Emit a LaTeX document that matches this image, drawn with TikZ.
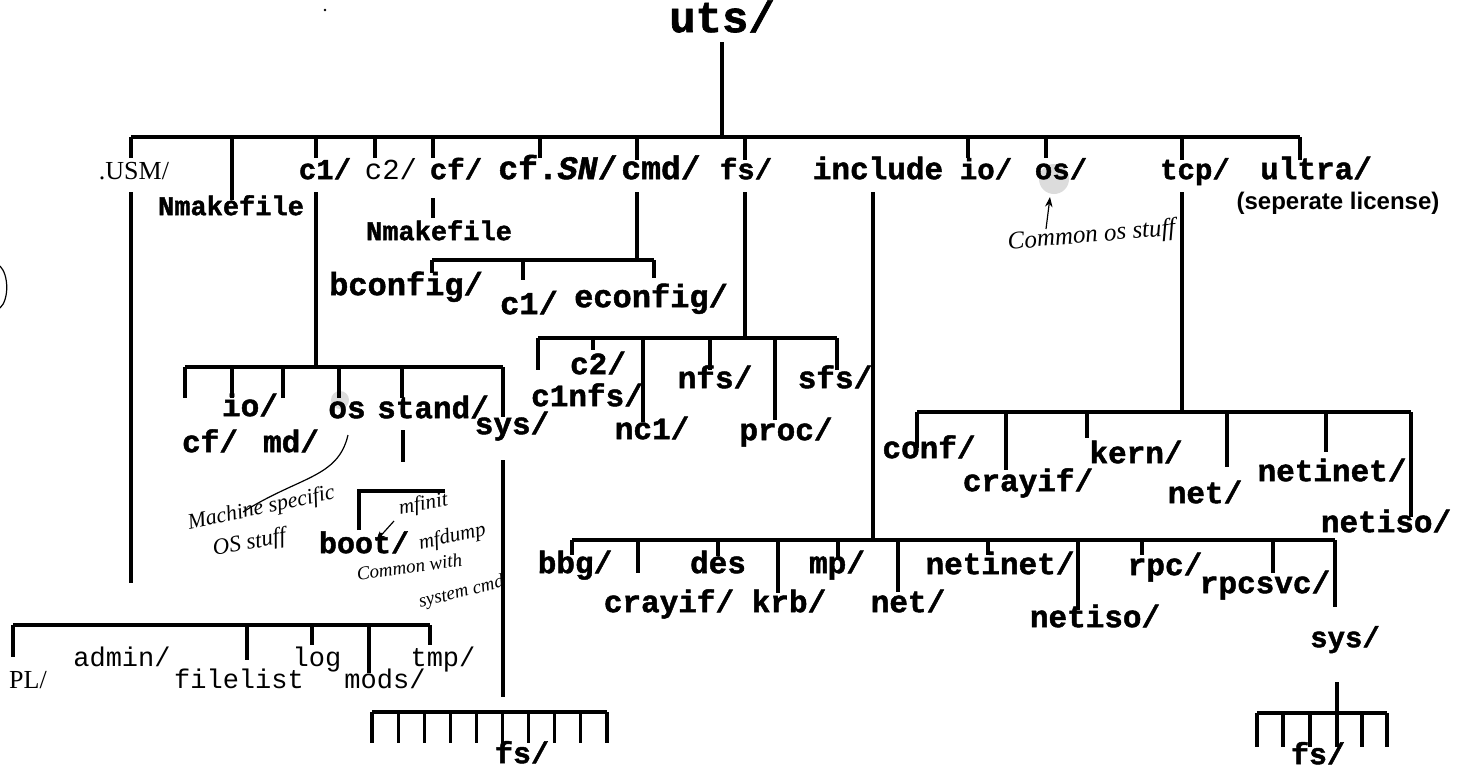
\documentclass[tikz,border=0pt]{standalone}
\usepackage{fontspec}
\usetikzlibrary{arrows.meta}
\setmonofont{Liberation Mono}[BoldFeatures={FakeBold=1.5},BoldItalicFeatures={FakeBold=1.5}]
\newfontfamily\timesf{Liberation Serif}
\newfontfamily\arialf{Liberation Sans}
\newcommand\fsz[1]{\fontsize{#1}{#1}\selectfont}
\begin{document}
\begin{tikzpicture}[x=1pt,y=-1pt,line width=3.2pt,
  lbl/.style={font=\ttfamily\bfseries\fsz{31},anchor=mid,inner sep=0pt},
  toplbl/.style={lbl,font=\ttfamily\bfseries\fsz{29}},
  thin/.style={font=\ttfamily\fsz{27},anchor=mid,inner sep=0pt},
  tms/.style={font=\timesf\fsz{26},anchor=mid,inner sep=0pt},
  hand/.style={font=\timesf\itshape\fsz{22},anchor=mid,inner sep=0pt},
  pen/.style={line width=1.2pt},
  speck/.style={fill=gray!50,opacity=0.55}]
\useasboundingbox (0,0) rectangle (1467,772);
% speckles
\fill[speck] (1054,179) circle (15);
\fill[speck] (340,400) circle (9);
\fill (325,10) circle (1.4);
% labels
\node[lbl,font=\ttfamily\bfseries\fsz{44}] (uts) at (722,30) {uts/};
\node[tms] (usm) at (134,177) {.USM/};
\node[toplbl,font=\ttfamily\bfseries\fsz{27}] (nmk1) at (231,213) {Nmakefile};
\node[toplbl] (c1) at (325,177) {c1/};
\node[thin,font=\ttfamily\fsz{29}] (c2) at (391,177) {c2/};
\node[toplbl] (cf) at (456,177) {cf/};
\node[toplbl,font=\ttfamily\bfseries\fsz{33}] (cfsn) at (558,177) {cf.\textit{SN}/};
\node[toplbl,font=\ttfamily\bfseries\fsz{33}] (cmd) at (661,177) {cmd/};
\node[toplbl] (fs) at (746,177) {fs/};
\node[toplbl,font=\ttfamily\bfseries\fsz{31}] (incl) at (878,177) {include};
\node[toplbl] (io) at (986,177) {io/};
\node[toplbl] (os) at (1061,177) {os/};
\node[toplbl] (tcp) at (1195,177) {tcp/};
\node[toplbl,font=\ttfamily\bfseries\fsz{31}] (ultra) at (1316,177) {ultra/};
\node[font=\arialf\bfseries\fsz{24},anchor=mid,inner sep=0pt] (lic) at (1338,207) {(seperate license)};
\node[toplbl,font=\ttfamily\bfseries\fsz{27}] (nmk2) at (439,238) {Nmakefile};
% cmd children
\node[lbl,font=\ttfamily\bfseries\fsz{32}] (bconf) at (406,293) {bconfig/};
\node[lbl,font=\ttfamily\bfseries\fsz{32}] (c1b) at (529,312) {c1/};
\node[lbl,font=\ttfamily\bfseries\fsz{32}] (econf) at (651,305) {econfig/};
% fs children
\node[lbl] (c2b) at (598,372) {c2/};
\node[lbl] (c1nfs) at (587,404) {c1nfs/};
\node[lbl] (nfs) at (715,386) {nfs/};
\node[lbl] (nc1) at (652,437) {nc1/};
\node[lbl] (proc) at (786,438) {proc/};
\node[lbl] (sfs) at (835,386) {sfs/};
% c1 children
\node[lbl] (cfc) at (210,450) {cf/};
\node[lbl] (ioc) at (250,414) {io/};
\node[lbl] (mdc) at (291,450) {md/};
\node[lbl] (osc) at (347,416) {os};
\node[lbl] (stand) at (433,416) {stand/};
\node[lbl] (sys1) at (512,432) {sys/};
\node[lbl,font=\ttfamily\bfseries\fsz{30}] (boot) at (364,551) {boot/};
% .USM children
\node[tms] (pl) at (28,686) {PL/};
\node[thin] (admin) at (122,664) {admin/};
\node[thin] (filelist) at (239,686) {filelist};
\node[thin] (log) at (317,664) {log};
\node[thin] (mods) at (385,686) {mods/};
\node[thin] (tmp) at (443,664) {tmp/};
% include children
\node[lbl] (bbg) at (575,571) {bbg/};
\node[lbl] (cray1) at (669,610) {crayif/};
\node[lbl] (des) at (718,571) {des};
\node[lbl] (krb) at (789,610) {krb/};
\node[lbl] (mp) at (837,571) {mp/};
\node[lbl] (net1) at (908,610) {net/};
\node[lbl] (netinet1) at (1000,572) {netinet/};
\node[lbl] (netiso1) at (1095,625) {netiso/};
\node[lbl] (rpc) at (1165,573) {rpc/};
\node[lbl] (rpcsvc) at (1265,591) {rpcsvc/};
\node[lbl,font=\ttfamily\bfseries\fsz{29}] (sys2) at (1345,645) {sys/};
% tcp children
\node[lbl] (conf) at (929,456) {conf/};
\node[lbl] (cray2) at (1028,489) {crayif/};
\node[lbl] (kern) at (1136,461) {kern/};
\node[lbl] (net2) at (1205,501) {net/};
\node[lbl] (netinet2) at (1332,479) {netinet/};
\node[lbl] (netiso2) at (1386,530) {netiso/};
% bottom fs
\node[lbl,font=\ttfamily\bfseries\fsz{30}] (fsl) at (522,761) {fs/};
\node[lbl,font=\ttfamily\bfseries\fsz{30}] (fsr) at (1318,762) {fs/};

% ---- tree lines ----
\draw (722,42) -- (722,137);
\draw (131,137) -- (1300,137);
\foreach \x/\y in {131/158,232/200,316/158,375/158,433/158,540/158,637/160,745/160,968/158,1046/158,1182/160,1300/160}
  \draw (\x,137) -- (\x,\y);
\draw (131,192) -- (131,583);
\draw (316,192) -- (316,367);
\draw (433,198) -- (433,218);
\draw (637,192) -- (637,260);
\draw (745,192) -- (745,338);
\draw (873,192) -- (873,540);
\draw (1182,192) -- (1182,412);
% cmd
\draw (432,260) -- (654,260);
\foreach \x/\y in {432/273,523/280,654/278} \draw (\x,260) -- (\x,\y);
% fs
\draw (538,338) -- (837,338);
\foreach \x/\y in {538/370,593/350,643/422,710/370,775/420,837/370} \draw (\x,338) -- (\x,\y);
% c1
\draw (185,367) -- (503,367);
\foreach \x/\y in {185/398,232/398,283/398,339/398,402/398,503/417} \draw (\x,367) -- (\x,\y);
\draw (403,430) -- (403,462);
\draw (359,530) -- (359,491) -- (445,491);
\draw (503,460) -- (503,697);
\draw (372,712) -- (607,712);
\foreach \k in {0,...,9} \draw ({372+\k*26.1},712) -- ({372+\k*26.1},743);
% .USM
\draw (13,625) -- (430,625);
\foreach \x/\y in {13/657,247/660,312/645,369/673,430/645} \draw (\x,625) -- (\x,\y);
% include
\draw (572,540) -- (1335,540);
\foreach \x/\y in {572/555,638/573,718/556,778/593,838/560,898/592,988/555,1078/610,1142/555,1273/573,1335/607} \draw (\x,540) -- (\x,\y);
\draw (1337,682) -- (1337,713);
\draw (1257,713) -- (1387,713);
\foreach \x in {1257,1283,1310,1337,1362,1387} \draw (\x,713) -- (\x,747);
% tcp
\draw (917,412) -- (1411,412);
\foreach \x/\y in {917/448,1006/470,1087/438,1227/467,1326/452,1411/517} \draw (\x,412) -- (\x,\y);

% ---- handwritten notes ----
\node[hand,font=\timesf\itshape\fsz{25},rotate=5] (common) at (1092,240) {Common os stuff};
\draw[pen,-{Stealth[length=10pt]}] (1046,229) -- (1050,197);
\draw[pen] (348,435) .. controls (338,478) and (300,476) .. (243,512);
\node[hand,rotate=12] (mach) at (262,512) {Machine specific};
\node[hand,font=\timesf\itshape\fsz{23},rotate=10] (osstuff) at (250,547) {OS stuff};
\node[hand,font=\timesf\itshape\fsz{21},rotate=10] (mfinit) at (424,508) {mfinit};
\draw[pen,-{Stealth[length=10pt]}] (394,521) -- (376,541);
\node[hand,font=\timesf\itshape\fsz{21},rotate=12] (mfdump) at (453,540) {mfdump};
\node[hand,font=\timesf\itshape\fsz{19},rotate=8] (cw) at (410,571) {Common with};
\node[hand,font=\timesf\itshape\fsz{19},rotate=14] (sc) at (462,595) {system cmd};
\draw[pen] (0,266) .. controls (9,275) and (9,300) .. (0,308);
\end{tikzpicture}
\end{document}
